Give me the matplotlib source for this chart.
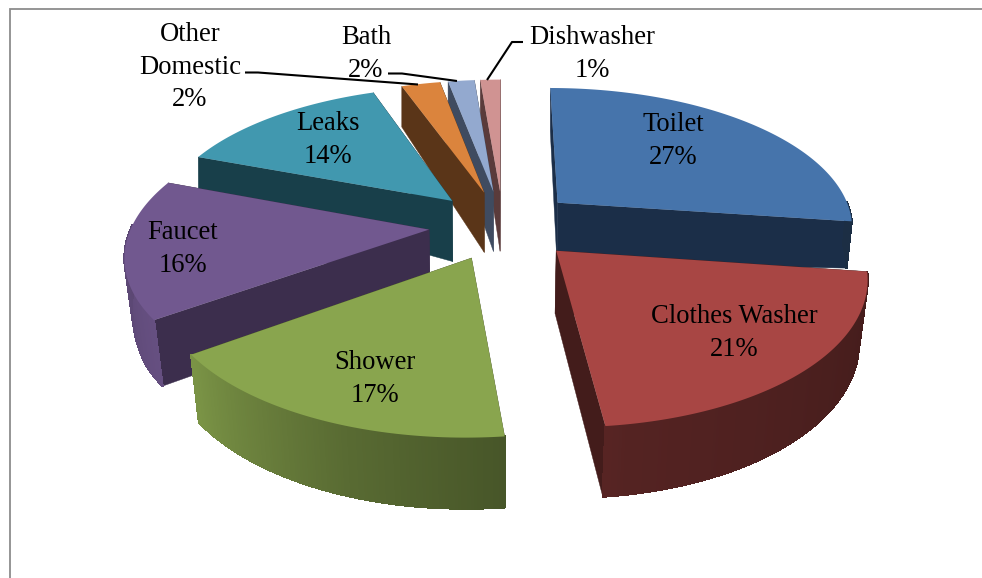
import numpy as np
import matplotlib
matplotlib.use("Agg")
import matplotlib.pyplot as plt
from matplotlib.collections import PolyCollection
from matplotlib.colors import to_rgb

# ---- data ----
categories = ["Toilet", "Clothes Washer", "Shower", "Faucet", "Leaks",
              "Other\nDomestic", "Bath", "Dishwasher"]
values = [27.2, 21.1, 16.8, 15.6, 13.8, 2.5, 1.7, 1.3]
top_colors = ["#4674AB", "#A84644", "#89A54E", "#71588F", "#4198AF",
              "#DB843D", "#93A9CF", "#D09392"]
side_colors = ["#1B2E48", "#431C1B", "#4A5629", "#3C2E4D", "#183F4A",
               "#5A3518", "#3F4B60", "#5A3B3B"]
label_xy = [(673, 141), (734, 333), (375, 379), (183, 249), (328, 140),
            (190, 67), (366, 54), (592, 54)]
leaders = [None, None, None, None, None,
           [(245, 72.5), (258, 72.5), (418, 84.5)],
           [(388, 73.5), (402, 73.5), (457, 81)],
           [(523, 42), (512, 42), (487, 80)]]
draw_order = [7, 6, 5, 4, 0, 3, 1, 2]

# ---- 3-D view ----
CX, CY = 503.0, 225.0
BX, AY, K = 297.0, 139.4, 0.1586
EXPLODE = 0.25


def project(x, y):
    w = 1 + K * y
    return CX + BX * x / w, CY - AY * y / w


def drop(sx, sy):
    """Bottom-face point beneath a top-face screen point."""
    base = np.interp(sy, [88, 200, 320, 435], [44, 61, 66, 71])
    d = ((sx - 500) / 300) ** 2 * 0.14 * np.maximum(0, 300 - sy)
    shift = np.interp(sy, [155, 217, 267, 320], [0, 0.014, 0.022, 0.025])
    return sx + (500 - sx) * shift, sy + base - d


def wall_shade(theta):
    return np.interp(theta, [100, 170, 200, 235, 260, 295],
                     [0.40, 0.50, 0.65, 0.90, 0.82, 0.75])


fig = plt.figure(figsize=(9.82, 5.78), dpi=100, facecolor="white")
ax = fig.add_axes([0, 0, 1, 1])
ax.set_xlim(0, 982)
ax.set_ylim(578, 0)
ax.axis("off")

# plot frame
ax.plot([10.5, 10.5, 982], [578, 9, 9], color="#8C8C8C", lw=1.3, solid_joinstyle="miter")

fractions = np.array(values) / sum(values)
edges = np.concatenate([[0], np.cumsum(fractions)]) * 360

for i in draw_order:
    a0, a1 = edges[i], edges[i + 1]
    mid = np.radians((a0 + a1) / 2)
    ox, oy = EXPLODE * np.sin(mid), EXPLODE * np.cos(mid)
    th = np.linspace(a0, a1, max(int(a1 - a0) * 2, 4))
    tr = np.radians(th)
    px, py = project(ox + np.sin(tr), oy + np.cos(tr))
    tx, ty = project(ox, oy)
    bx, by = drop(px, py)
    tbx, tby = drop(tx, ty)
    top = np.array(to_rgb(top_colors[i]))
    side = side_colors[i]

    faces = [[(tx, ty), (px[0], py[0]), (bx[0], by[0]), (tbx, tby)],
             [(tx, ty), (px[-1], py[-1]), (bx[-1], by[-1]), (tbx, tby)]]
    ax.add_collection(PolyCollection(faces, facecolors=side, edgecolors=side, linewidths=0.3))

    strips, cols = [], []
    for j in range(len(th) - 1):
        m = (th[j] + th[j + 1]) / 2
        if not 90 < m < 272:
            continue
        strips.append([(px[j], py[j]), (px[j + 1], py[j + 1]), (bx[j + 1], by[j + 1]), (bx[j], by[j])])
        cols.append(tuple(top * wall_shade(m)))
    if strips:
        ax.add_collection(PolyCollection(strips, facecolors=cols, edgecolors=cols,
                                         linewidths=0.9, antialiaseds=False))

    poly = [(tx, ty)] + list(zip(px, py))
    ax.add_collection(PolyCollection([poly], facecolors=[top], edgecolors="none"))

# labels
font = ["Liberation Serif", "DejaVu Serif"]
for name, v, (lx, ly), lead in zip(categories, values, label_xy, leaders):
    ax.text(lx, ly, f"{name}\n{round(v)}%", ha="center", va="center",
            family=font, fontsize=19.2, linespacing=1.41, color="black")
    if lead:
        xs, ys = zip(*lead)
        ax.plot(xs, ys, color="black", lw=1.5, solid_capstyle="butt")

fig.savefig("out.png", dpi=100)
